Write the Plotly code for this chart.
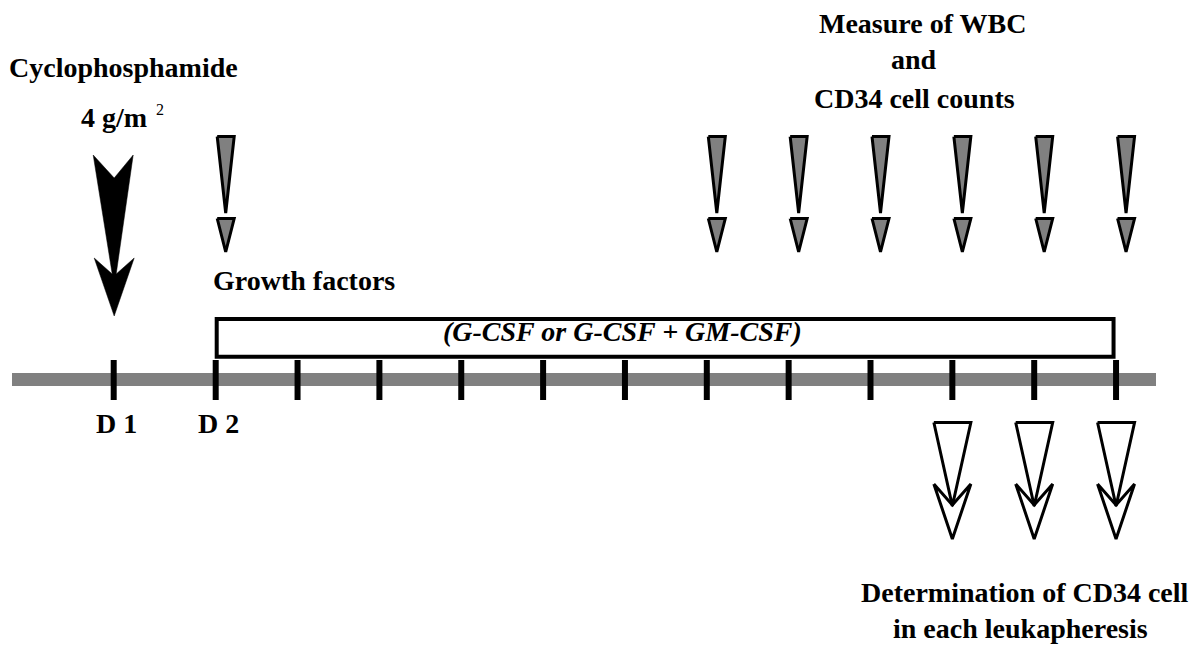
import plotly.graph_objects as go

# ---- data ----
days = list(range(1, 14))
day_labels = {1: "D 1", 2: "D 2"}
chemo_day = 1
chemo_lines = ["Cyclophosphamide", "4 g/m"]
chemo_sup = "2"
monitor_days = [2, 8, 9, 10, 11, 12, 13]
growth_start, growth_end = 2, 13
growth_title = "Growth factors"
growth_text = "(G-CSF or G-CSF + GM-CSF)"
apheresis_days = [11, 12, 13]
monitor_title = ["Measure of WBC", "and", "CD34 cell counts"]
apheresis_title = ["Determination of CD34 cell", "in each leukapheresis"]

# ---- layout helpers (pixels per day, gap before D2) ----
PXD = 81.85
D1_GAP = 102 / PXD
X0 = 2 - 207.7 / PXD
X1 = 2 + (1197 - 207.7) / PXD


def X(d):
    return (2 - D1_GAP) if d == 1 else d


def dx(p):
    return p / PXD


def px(p):
    return X0 + p / PXD


FONT = "Times New Roman, Liberation Serif, serif"
fig = go.Figure()

# timeline bar
fig.add_trace(go.Scatter(x=[px(4), px(1148)], y=[371.5, 371.5], mode="lines",
                         line=dict(color="#808080", width=13), hoverinfo="skip"))
# day ticks
tx, ty = [], []
for d in days:
    tx += [X(d), X(d), None]
    ty += [352, 392, None]
fig.add_trace(go.Scatter(x=tx, y=ty, mode="lines", line=dict(color="black", width=6),
                         hoverinfo="skip"))

# growth factor box
fig.add_shape(type="rect", xref="x", yref="y",
              x0=X(growth_start) + dx(1), x1=X(growth_end) - dx(2.5), y0=311, y1=348.7,
              line=dict(color="black", width=4), fillcolor="rgba(0,0,0,0)")

# cyclophosphamide arrow
cx = X(chemo_day) + dx(0.5)
pts = [(-21, 147), (0, 170), (19, 147), (2, 266), (20, 250), (0, 308), (-20, 250), (-2, 266), (-21, 147)]
fig.add_trace(go.Scatter(x=[cx + dx(a) for a, b in pts], y=[b for a, b in pts], mode="lines",
                         fill="toself", fillcolor="black", line=dict(color="black", width=0.5),
                         hoverinfo="skip"))

# monitoring arrows (gray)
gx, gy = [], []
for d in monitor_days:
    c = X(d) + dx(10)
    for poly in ([(-8.5, 128.5), (8.5, 128.5), (0, 205), (-8.5, 128.5)],
                 [(-8.5, 210.5), (8.5, 210.5), (0, 244), (-8.5, 210.5)]):
        gx += [c + dx(a) for a, b in poly] + [None]
        gy += [b for a, b in poly] + [None]
fig.add_trace(go.Scatter(x=gx, y=gy, mode="lines", fill="toself", fillcolor="#808080",
                         line=dict(color="black", width=3), hoverinfo="skip"))

# apheresis arrows (white)
wx, wy = [], []
for d in apheresis_days:
    c = X(d)
    for poly in ([(-18.5, 414.5), (18.5, 414.5), (0, 498), (-18.5, 414.5)],
                 [(-18.5, 476), (0, 497), (18.5, 476), (0, 531), (-18.5, 476)]):
        wx += [c + dx(a) for a, b in poly] + [None]
        wy += [b for a, b in poly] + [None]
fig.add_trace(go.Scatter(x=wx, y=wy, mode="lines", fill="toself", fillcolor="white",
                         line=dict(color="black", width=3), hoverinfo="skip"))


def label(text, x, y, size=28, xanchor="center", italic=False, bold=True):
    t = text
    if italic:
        t = "<i>" + t + "</i>"
    if bold:
        t = "<b>" + t + "</b>"
    fig.add_annotation(x=x, y=y - 8, xref="x", yref="y", text=t, showarrow=False,
                       xanchor=xanchor, yanchor="middle",
                       font=dict(family=FONT, size=size, color="black"))


# texts
label(chemo_lines[0], cx + dx(9), 67)
label(chemo_lines[1], cx, 117)
label(chemo_sup, px(152), 109, size=16, bold=False)
label(growth_title, px(203), 280, xanchor="left")
label(growth_text, px(614), 331, italic=True)
for d, t in day_labels.items():
    label(t, X(d) + dx(3), 423)
for t, xx, yy in zip(monitor_title, [914, 906, 906], [23, 59, 98]):
    label(t, px(xx), yy)
for t, xx, yy in zip(apheresis_title, [1017, 1012], [592, 628]):
    label(t, px(xx), yy)

fig.update_layout(width=1197, height=645, margin=dict(l=0, r=0, t=0, b=0),
                  paper_bgcolor="white", plot_bgcolor="white", showlegend=False,
                  xaxis=dict(range=[X0, X1], visible=False, fixedrange=True),
                  yaxis=dict(range=[645, 0], visible=False, fixedrange=True))
fig.write_html("out.html")
